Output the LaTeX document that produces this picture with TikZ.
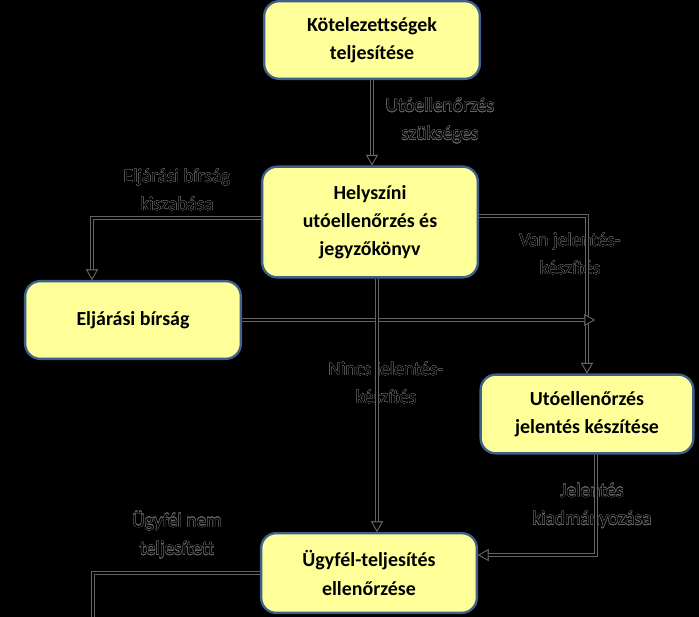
\documentclass[tikz,border=0pt]{standalone}
\usepackage{fontspec}
\setmainfont{Carlito}
\usepackage[copies]{contour}
\contourlength{0.26pt}
\usepackage{xcolor}
\usepackage{tikz}
\usetikzlibrary{arrows.meta,positioning,calc}

\definecolor{boxfill}{RGB}{255,255,153}
\definecolor{boxedge}{RGB}{64,96,140}
\definecolor{edgegray}{RGB}{100,100,100}

\newcommand{\olbl}[1]{\contour{edgegray}{#1}}

\begin{document}
\begin{tikzpicture}[
  x=0.03cm, y=-0.03cm,
  stagebox/.style={
    rectangle, rounded corners=0.45cm, draw=boxedge, line width=2pt, fill=boxfill,
    minimum width=6.47cm, minimum height=2.33cm,
    font=\fontsize{17}{24}\selectfont\bfseries, align=center, inner sep=2pt
  },
  lbl/.style={font=\fontsize{16.5}{23.8}\selectfont, align=center, text=black, inner sep=0pt},
  flowline/.style={draw=black, line width=1.6pt,
    preaction={draw=edgegray, line width=3.1pt}},
  flow/.style={flowline,
    -{Triangle[length=9pt, width=10pt, line width=0.7pt, fill=black, color=edgegray]}}
]
\fill[black] (0,0) rectangle (699,617);
\useasboundingbox (0,0) rectangle (699,617);

% Boxes
\node[stagebox] (duty) at (372,40) {Kötelezettségek\\teljesítése};
\node[stagebox, minimum height=3.32cm] (onsite) at (370,222) {Helyszíni\\utóellenőrzés és\\jegyzőkönyv};
\node[stagebox] (fine) at (133,320) {Eljárási bírság};
\node[stagebox, minimum width=6.38cm, minimum height=2.36cm] (report) at (587,414) {Utóellenőrzés\\jelentés készítése};
\node[stagebox, minimum height=2.39cm] (check) at (369,573) {Ügyfél-teljesítés\\ellenőrzése};

% Connector labels (lines run over them)
\node[lbl] (needlbl) at (440,121) {\olbl{Utóellenőrzés}\\\olbl{szükséges}};
\node[lbl] (finelbl) at (177,190) {\olbl{Eljárási bírság}\\\olbl{kiszabása}};
\node[lbl] (yeslbl) at (570,254) {\olbl{Van jelentés-}\\\olbl{készítés}};
\node[lbl] (nolbl) at (386,383) {\olbl{Nincs jelentés-}\\\olbl{készítés}};
\node[lbl] (publbl) at (592,506) {\olbl{Jelentés}\\\olbl{kiadmányozása}};
\node[lbl] (faillbl) at (177,535) {\olbl{Ügyfél nem}\\\olbl{teljesített}};

% Helper coordinates
\coordinate (nox) at (377,0);
\coordinate (pubx) at (596,0);
\coordinate (failend) at (93,630);

% Connectors
\draw[flow] (duty.south) -- (duty.south |- onsite.north);
\draw[flow] ([yshift=0.12cm]onsite.west) -| ([xshift=-1.23cm]fine.north);
\draw[flow] ([yshift=0.18cm]onsite.east) -| (report.north);
\draw[flow] (fine.east) -- ($(fine.east -| report.north)+(8,0)$);
\draw[flow] (onsite.south -| nox) -- (check.north -| nox);
\draw[flow] (report.south -| pubx) |- ([yshift=0.54cm]check.east);
\draw[flowline] (check.west) -| (failend);

\end{tikzpicture}
\end{document}
